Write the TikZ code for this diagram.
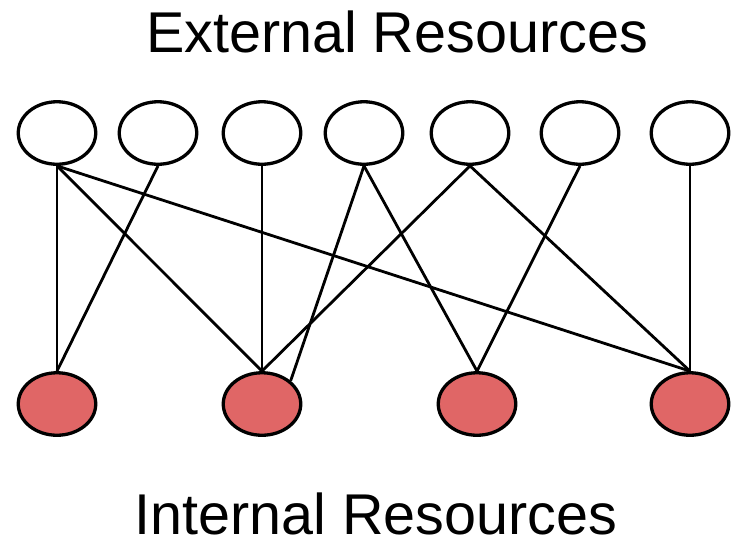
\documentclass[tikz,border=0pt]{standalone}
\usepackage{fontspec}
\setmainfont{Liberation Sans}
\usetikzlibrary{shapes.geometric,backgrounds}
\definecolor{intred}{HTML}{E06666}
\begin{document}
\begin{tikzpicture}[x=1pt,y=-1pt,
  res/.style={draw=black,line width=3.3pt,ellipse,inner sep=0pt,minimum width=77.5pt,minimum height=62.5pt},
  extres/.style={res,fill=white},
  intres/.style={res,fill=intred},
  link/.style={draw=black,line width=2.8pt},
  caption/.style={anchor=base,inner sep=0pt,font=\fontsize{57.5}{66}\selectfont}]
\useasboundingbox (0,0) rectangle (736,542);
\node[caption] (top) at (397,52) {External Resources};
\node[caption] (bot) at (376,534) {Internal Resources};
% external resources
\foreach \n/\x in {1/57,2/158,3/262,4/364,5/470,6/580,7/690}
  \node[extres] (e\n) at (\x,133) {};
% internal resources
\foreach \n/\x in {1/57,2/262,3/477,4/690}
  \node[intres] (i\n) at (\x,404) {};
% links, drawn behind the ellipses
\begin{scope}[on background layer]
\draw[link] (e1.south) -- (i1.north);
\draw[link] (e1.south) -- (i2.north);
\draw[link] (e1.south) -- (i4.north);
\draw[link] (e2.south) -- (i1.north);
\draw[link] (e3.south) -- (i2.north);
\draw[link] (e4.south) -- (i2.39);
\draw[link] (e4.south) -- (i3.north);
\draw[link] (e5.south) -- (i2.north);
\draw[link] (e5.south) -- (i4.north);
\draw[link] (e6.south) -- (i3.north);
\draw[link] (e7.south) -- (i4.north);
\end{scope}
\end{tikzpicture}
\end{document}
